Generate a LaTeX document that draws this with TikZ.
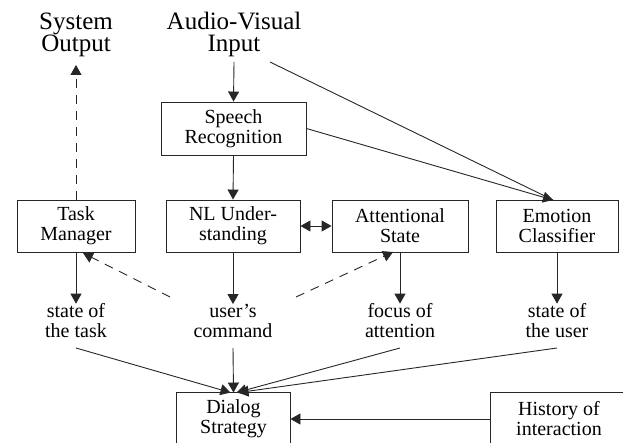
\documentclass[tikz,border=0pt]{standalone}
\usepackage{fontspec}
\setmainfont{Liberation Serif}
\usetikzlibrary{arrows.meta,calc}
\begin{document}
\begin{tikzpicture}[x=1pt,y=-1pt,
  line/.style={draw=black!85,line width=0.9pt},
  tip/.style={-{Triangle[width=11pt,length=10pt]}},
  dashline/.style={dash pattern=on 9pt off 7pt},
  box/.style={draw=black!85,line width=0.9pt,inner sep=0pt,align=center,font=\fontsize{20}{20}\selectfont},
  lbl/.style={inner sep=0pt,align=center,font=\fontsize{20}{20}\selectfont},
  ttl/.style={inner sep=0pt,anchor=base,text height=17pt,text depth=2pt,font=\fontsize{25}{22}\selectfont}]
\useasboundingbox (0,0) rectangle (623,443);
% titles
\node[ttl] (out1) at (76,30) {System};
\node[ttl] (out2) at (76,52) {Output};
\node[ttl] (in1) at (234,30) {Audio-Visual};
\node[ttl] (in2) at (234,52) {Input};
% boxes
\node[box,minimum width=145pt,minimum height=53pt] (sr) at (233.5,128.5) {Speech\\Recognition};
\node[box,minimum width=118pt,minimum height=52pt] (tm) at (76,226) {Task\\Manager};
\node[box,minimum width=134pt,minimum height=52pt] (nl) at (233,226) {NL Under-\\standing};
\node[box,minimum width=136pt,minimum height=52pt] (at) at (400,226) {Attentional\\State};
\node[box,minimum width=122pt,minimum height=52pt] (em) at (557,226) {Emotion\\Classifier};
\node[box,draw=none,minimum width=113pt,minimum height=52pt] (ds) at (233.5,419) {Dialog\\Strategy};
\node[box,draw=none,minimum width=136pt,minimum height=52pt] (hi) at (559,419) {History of\\interaction};
\draw[line] (ds.south west) ++(0,20) |- (ds.north east) -- ++(0,72);
\draw[line] (hi.south west) ++(0,20) |- (hi.north east) -- ++(0,72);
% labels
\node[lbl] (st) at (76,321) {state of\\the task};
\node[lbl] (uc) at (233,321) {user’s\\command};
\node[lbl] (fa) at (400,321) {focus of\\attention};
\node[lbl] (su) at (557,321) {state of\\the user};
% helper coordinates
\coordinate (inb) at (234,62);
\coordinate (inr) at (270,62);
\coordinate (emt) at (553,200);
\coordinate (outb) at (76,65);
\coordinate (st0) at (76,348);
\coordinate (uc0) at (233,348);
\coordinate (fa0) at (400,348);
\coordinate (su0) at (557,348);
\coordinate (ucl) at (170,297);
\coordinate (ucr) at (296,297);
\coordinate (tmb) at (83,253);
\coordinate (atb) at (393,252);
% connectors
\draw[line,tip] (inb) -- (sr.north);
\draw[line,tip] (sr.south) -- (nl.north);
\draw[line] (inr) -- (emt);
\draw[line,tip] (sr.east) -- (emt);
\draw[line,tip,dashline] (tm.north) -- (outb);
\draw[line,{Triangle[width=11pt,length=10pt]}-{Triangle[width=11pt,length=10pt]}] (nl.east) -- (at.west);
\draw[line,tip] (tm.south) -- (st.north);
\draw[line,tip] (nl.south) -- (uc.north);
\draw[line,tip] (at.south) -- (fa.north);
\draw[line,tip] (em.south) -- (su.north);
\draw[line,tip,dashline] (ucl) -- (tmb);
\draw[line,tip,dashline] (ucr) -- (atb);
\draw[line,tip] (st0) -- ($(ds.north)+(-3,0)$);
\draw[line,tip] (uc0) -- (ds.north);
\draw[line,tip] (fa0) -- ($(ds.north)+(3,0)$);
\draw[line,tip] (su0) -- ($(ds.north)+(5,0)$);
\draw[line,tip] (hi.west) -- (ds.east);
\end{tikzpicture}
\end{document}
